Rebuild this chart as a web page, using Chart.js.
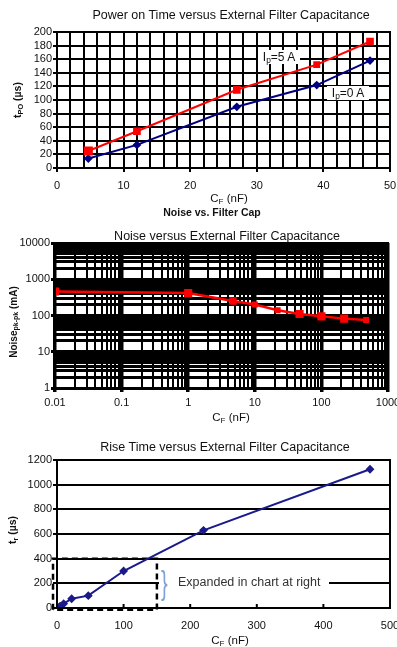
<!DOCTYPE html>
<html>
<head>
<meta charset="utf-8">
<script src="https://cdn.jsdelivr.net/npm/chart.js@4.4.1/dist/chart.umd.min.js"></script>
<style>
body{margin:0;background:#fff;width:397px;height:647px;position:relative;overflow:hidden;font-family:"Liberation Sans",Arial,sans-serif;color:#111}
.box{position:absolute;left:0;width:397px}
.t{position:absolute;white-space:nowrap;transform:translate(-50%,-50%);font-size:12.5px}
.xt{font-size:11.5px}
.yt{position:absolute;white-space:nowrap;transform:translate(-50%,-50%) rotate(-90deg);font-weight:bold;font-size:10.5px}
.lbl{position:absolute;background:#fff;font-size:12px;text-align:center;line-height:14px}
sub{font-size:70%;vertical-align:-0.25em;line-height:0}
</style>
</head>
<body>
<div class="box" style="top:0;height:195px"><canvas id="pwrChart"></canvas></div>
<div class="box" style="top:195px;height:220px"><canvas id="noiseChart"></canvas></div>
<div class="box" style="top:415px;height:232px"><canvas id="riseChart"></canvas></div>

<div class="t" style="left:231px;top:15px">Power on Time versus External Filter Capacitance</div>
<div class="yt" style="left:17px;top:100px">t<sub>PO</sub> (µs)</div>
<div class="t xt" style="left:229px;top:198px">C<sub>F</sub> (nF)</div>
<div class="lbl" style="left:258px;top:50px;width:42px">I<sub>p</sub>=5 A</div>
<div class="lbl" style="left:327px;top:86px;width:42px">I<sub>p</sub>=0 A</div>
<div class="t" style="left:212px;top:212px;font-weight:bold;font-size:10.5px">Noise vs. Filter Cap</div>

<div class="t" style="left:227px;top:236px">Noise versus External Filter Capacitance</div>
<div class="yt" style="left:13px;top:322px;font-size:10px">Noise<sub>pk-pk</sub> (mA)</div>
<div class="t xt" style="left:231px;top:417px">C<sub>F</sub> (nF)</div>

<div class="t" style="left:225px;top:447px">Rise Time versus External Filter Capacitance</div>
<div class="yt" style="left:12px;top:530px">t<sub>r</sub> (µs)</div>
<div class="t xt" style="left:230px;top:640px">C<sub>F</sub> (nF)</div>
<div class="lbl" style="left:159px;top:565px;width:170px;height:34px;text-align:left">
  <span style="position:absolute;left:2px;top:7px;font-size:20px;line-height:20px;color:#7fa3d6;transform:scaleY(1.7);display:inline-block">}</span>
  <span style="position:absolute;left:19px;top:10px;font-size:12.5px;color:#333">Expanded in chart at right</span>
</div>

<script>
// ====== Data ======
const pwrCap = [4.7, 12, 27, 39, 47];
const pwrOn5A = [25, 54, 115, 152, 186];
const pwrOn0A = [14, 34, 90, 122, 158];

const noiseCap = [0.01, 1, 4.7, 10, 22, 47, 100, 220, 470];
const noiseMa = [460, 415, 250, 200, 140, 110, 95, 82, 75];
const noiseMarker = [4, 4, 3.5, 2.5, 2.5, 4, 4, 4, 2.5];

const riseCap = [0.01, 1, 4.7, 10, 22, 47, 100, 220, 470];
const riseUs = [2, 6, 15, 35, 75, 100, 300, 630, 1125];

// dashed "expanded" box, in chart units
const boxCap = [-6, -6, 150, 150, -6];
const boxUs = [-15, 400, 400, -15, -15];

const noiseXDecades = [-2, 3];
const noiseYDecades = [0, 4];

// ====== Helpers ======
const FONT = { family: '"Liberation Sans", Arial, sans-serif', size: 11 };
const pts = (xs, ys) => xs.map((x, i) => ({ x: x, y: ys[i] }));
const isPow10 = v => Math.abs(Math.log10(v) - Math.round(Math.log10(v))) < 1e-9;
const decadeTicks = (lo, hi) => {
    const t = [];
    for (let e = lo; e < hi; e++)
        for (let m = 1; m < 10; m++) t.push({ value: +(m * Math.pow(10, e)).toPrecision(3) });
    t.push({ value: Math.pow(10, hi) });
    return t;
};
const fixW = w => s => { s.width = w; };
const fixH = h => s => { s.height = h; s.paddingLeft = 0; s.paddingRight = 0; };

const framePlugin = {
    id: 'frame',
    afterDatasetsDraw(chart) {
        const a = chart.chartArea, c = chart.ctx;
        c.save();
        c.strokeStyle = '#000';
        c.lineWidth = 2;
        c.strokeRect(a.left, a.top, a.right - a.left, a.bottom - a.top);
        c.restore();
    }
};

Chart.defaults.font = FONT;
Chart.defaults.color = '#111';

// ====== Power on time ======
new Chart(document.getElementById('pwrChart'), {
    type: 'line',
    data: {
        datasets: [
            {
                data: pts(pwrCap, pwrOn5A),
                borderColor: '#ff0000',
                backgroundColor: '#ff0000',
                borderWidth: 2,
                pointStyle: 'rect',
                pointRadius: [5, 4, 4, 3.5, 4],
            },
            {
                data: pts(pwrCap, pwrOn0A),
                borderColor: '#000080',
                backgroundColor: '#000080',
                borderWidth: 2,
                pointStyle: 'rectRot',
                pointRadius: 3,
            }
        ]
    },
    options: {
        animation: false,
        responsive: true,
        maintainAspectRatio: false,
        layout: { padding: { top: 32, right: 7, left: 0, bottom: 0 } },
        plugins: { legend: { display: false }, tooltip: { enabled: false } },
        scales: {
            x: {
                type: 'linear', min: 0, max: 50,
                afterFit: fixH(27),
                border: { color: '#000', width: 2 },
                grid: {
                    color: '#000', lineWidth: 2, tickLength: 4,
                    tickColor: c => c.tick && c.tick.value % 10 === 0 ? '#000' : 'rgba(0,0,0,0)'
                },
                ticks: {
                    stepSize: 2, autoSkip: false, maxRotation: 0, padding: 7,
                    callback: v => v % 10 === 0 ? v : ''
                }
            },
            y: {
                min: 0, max: 200,
                afterFit: fixW(57),
                border: { color: '#000', width: 2 },
                grid: { color: '#000', lineWidth: 2, tickLength: 4 },
                ticks: { stepSize: 20, autoSkip: false, padding: 1, callback: v => String(v) }
            }
        }
    },
    plugins: [framePlugin]
});

// ====== Noise ======
new Chart(document.getElementById('noiseChart'), {
    type: 'line',
    data: {
        datasets: [{
            data: pts(noiseCap, noiseMa),
            borderColor: '#ff0000',
            backgroundColor: '#ff0000',
            borderWidth: 2.5,
            pointStyle: 'rect',
            pointRadius: noiseMarker,
        }]
    },
    options: {
        animation: false,
        responsive: true,
        maintainAspectRatio: false,
        layout: { padding: { top: 48, right: 9, left: 0, bottom: 0 } },
        plugins: { legend: { display: false }, tooltip: { enabled: false } },
        scales: {
            x: {
                type: 'logarithmic', min: 0.01, max: 1000,
                afterFit: fixH(27),
                afterBuildTicks: s => { s.ticks = decadeTicks(noiseXDecades[0], noiseXDecades[1]); },
                border: { color: '#000', width: 2 },
                grid: {
                    color: '#000', tickLength: 4,
                    lineWidth: c => c.tick && isPow10(c.tick.value) ? 3.5 : 2,
                    tickColor: c => c.tick && isPow10(c.tick.value) ? '#000' : 'rgba(0,0,0,0)'
                },
                ticks: {
                    autoSkip: false, maxRotation: 0, padding: 4,
                    callback: v => isPow10(v) ? String(v) : ''
                }
            },
            y: {
                type: 'logarithmic', min: 1, max: 10000,
                afterFit: fixW(55),
                afterBuildTicks: s => { s.ticks = decadeTicks(noiseYDecades[0], noiseYDecades[1]); },
                border: { color: '#000', width: 2 },
                grid: {
                    color: '#000', lineWidth: 3, tickLength: 4,
                    tickColor: c => c.tick && isPow10(c.tick.value) ? '#000' : 'rgba(0,0,0,0)'
                },
                ticks: {
                    autoSkip: false, padding: 1,
                    callback: v => isPow10(v) ? String(v) : ''
                }
            }
        }
    },
    plugins: [framePlugin]
});

// ====== Rise time ======
const innerTicks = {
    id: 'innerTicks',
    afterDatasetsDraw(chart) {
        const x = chart.scales.x, c = chart.ctx, b = chart.chartArea.bottom;
        c.save();
        c.strokeStyle = '#000';
        c.lineWidth = 2;
        x.ticks.forEach(t => {
            const px = x.getPixelForValue(t.value);
            c.beginPath();
            c.moveTo(px, b);
            c.lineTo(px, b - 4);
            c.stroke();
        });
        c.restore();
    }
};

new Chart(document.getElementById('riseChart'), {
    type: 'line',
    data: {
        datasets: [
            {
                data: pts(riseCap, riseUs),
                borderColor: '#1a1a8a',
                backgroundColor: '#1a1a8a',
                borderWidth: 2,
                pointStyle: 'rectRot',
                pointRadius: 3,
            },
            {
                data: pts(boxCap, boxUs),
                borderColor: '#000',
                borderWidth: 2.5,
                borderDash: [6, 4],
                pointRadius: 0,
                clip: false,
            }
        ]
    },
    options: {
        animation: false,
        responsive: true,
        maintainAspectRatio: false,
        layout: { padding: { top: 45, right: 7, left: 0, bottom: 0 } },
        plugins: { legend: { display: false }, tooltip: { enabled: false } },
        scales: {
            x: {
                type: 'linear', min: 0, max: 500,
                afterFit: fixH(39),
                border: { color: '#000', width: 2 },
                grid: { drawOnChartArea: false, drawTicks: false },
                ticks: { stepSize: 100, maxRotation: 0, padding: 11, callback: v => String(v) }
            },
            y: {
                min: 0, max: 1200,
                afterFit: fixW(57),
                border: { color: '#000', width: 2 },
                grid: { color: '#000', lineWidth: 2, tickLength: 4 },
                ticks: { stepSize: 200, autoSkip: false, padding: 1, callback: v => String(v) }
            }
        }
    },
    plugins: [framePlugin, innerTicks]
});
</script>
</body>
</html>
